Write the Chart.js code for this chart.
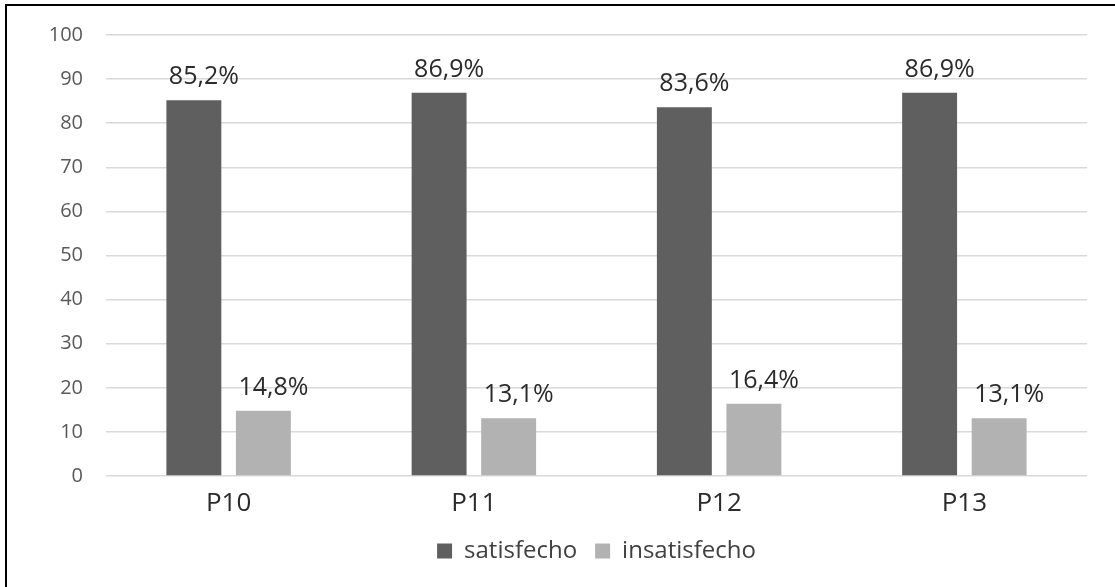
<!DOCTYPE html>
<html>
<head>
<meta charset="utf-8">
<script src="https://cdn.jsdelivr.net/npm/chart.js@4/dist/chart.umd.min.js"></script>
<style>
  body { margin: 0; background: #fff; overflow: hidden; }
  #wrap { position: relative; width: 1115px; height: 587px; }
  #frame { position: absolute; left: 5px; top: 4px; width: 1200px; height: 700px; border: 2px solid #000; }
  #myChart { position: absolute; left: 0; top: 0; }
</style>
</head>
<body>
<div id="wrap">
  <div id="frame"></div>
  <canvas id="myChart" width="1115" height="587"></canvas>
</div>
<script>
// values
const categories = ["P10", "P11", "P12", "P13"];
const satisfecho = [85.2, 86.9, 83.6, 86.9];
const insatisfecho = [14.8, 13.1, 16.4, 13.1];
const seriesNames = ["satisfecho", "insatisfecho"];
const yTicks = [0, 10, 20, 30, 40, 50, 60, 70, 80, 90, 100];

const FONT = "'Open Sans', 'DejaVu Sans', sans-serif";

// labels above the bars, with a comma decimal like the original
const barLabels = {
  id: "barLabels",
  afterDatasetsDraw(chart) {
    const ctx = chart.ctx;
    ctx.save();
    ctx.font = "25px " + FONT;
    ctx.fillStyle = "#2b2b2b";
    ctx.textAlign = "center";
    ctx.textBaseline = "alphabetic";
    chart.data.datasets.forEach((ds, i) => {
      const meta = chart.getDatasetMeta(i);
      meta.data.forEach((bar, j) => {
        const txt = ds.data[j].toFixed(1).replace(".", ",") + "%";
        ctx.fillText(txt, bar.x + 10, bar.y - 16);
      });
    });
    ctx.restore();
  }
};

drawChart();
function drawChart() {
  const ctx = document.getElementById("myChart").getContext("2d");
  new Chart(ctx, {
    type: "bar",
    data: {
      labels: categories,
      datasets: [
        {
          label: seriesNames[0],
          data: satisfecho,
          backgroundColor: "#5f5f5f",
          categoryPercentage: 0.567,
          barPercentage: 0.79
        },
        {
          label: seriesNames[1],
          data: insatisfecho,
          backgroundColor: "#b2b2b2",
          categoryPercentage: 0.567,
          barPercentage: 0.79
        }
      ]
    },
    options: {
      responsive: false,
      animation: false,
      layout: { padding: { top: 33, right: 28, bottom: 14, left: 0 } },
      plugins: {
        tooltip: { enabled: false },
        legend: {
          position: "bottom",
          fullSize: false,
          labels: {
            font: { family: FONT, size: 24 },
            color: "#404040",
            boxWidth: 15,
            boxHeight: 15,
            padding: 18
          }
        }
      },
      scales: {
        x: {
          grid: { display: false, drawTicks: false },
          border: { display: false },
          ticks: {
            font: { family: FONT, size: 26, lineHeight: 1 },
            color: "#2b2b2b",
            padding: 15
          },
          afterFit(scale) { scale.height = 45; }
        },
        y: {
          min: 0,
          max: 100,
          afterBuildTicks(scale) {
            scale.ticks = yTicks.map(v => ({ value: v }));
          },
          grid: { color: "#d9d9d9", lineWidth: 1.4, drawTicks: false },
          border: { display: false },
          ticks: {
            font: { family: FONT, size: 20 },
            color: "#595959",
            padding: 23
          },
          afterFit(scale) { scale.width = 106; }
        }
      }
    },
    plugins: [barLabels]
  });
}
</script>
</body>
</html>
